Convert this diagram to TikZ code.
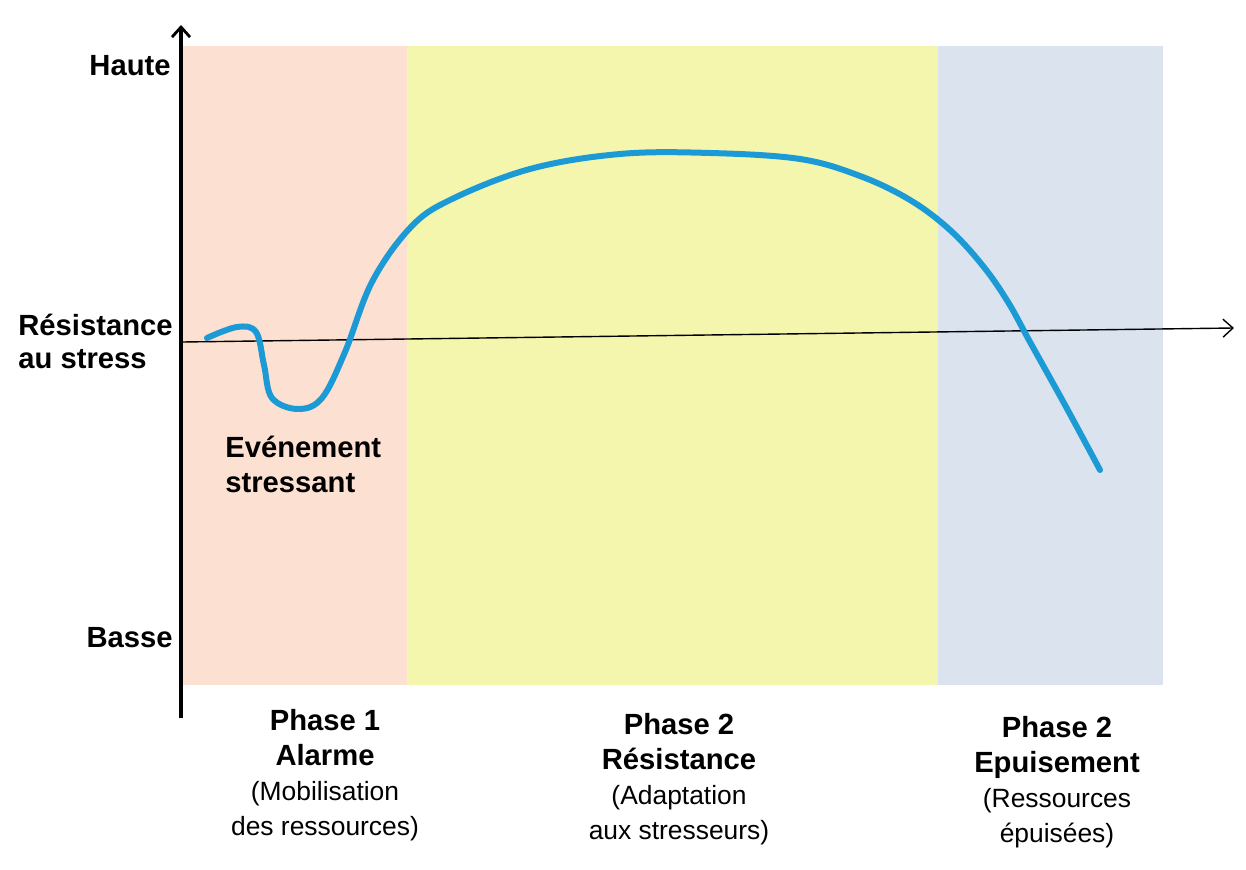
\documentclass[tikz,border=0pt]{standalone}
\usepackage{fontspec}
\setmainfont{Liberation Sans}
\usetikzlibrary{arrows.meta}
\definecolor{pinkbg}{HTML}{FCE0D2}
\definecolor{yellowbg}{HTML}{F4F6AE}
\definecolor{bluebg}{HTML}{DAE3EE}
\definecolor{curveblue}{HTML}{1C9AD6}
\newcommand\bphasefont{\fontsize{14.6}{17.5}\selectfont\bfseries}
\tikzset{
  lbl/.style={font=\fontsize{14.6}{17}\selectfont\bfseries, inner sep=0pt},
  phase/.style={font=\fontsize{13.2}{17.5}\selectfont, align=center, inner sep=0pt},
  axis/.style={line width=1.6pt, -{Straight Barb[length=5pt,width=9pt,line width=1.4pt]}},
  hax/.style={line width=0.7pt, -{Straight Barb[length=5pt,width=9pt,line width=0.7pt]}},
}
\begin{document}
\begin{tikzpicture}[x=0.5pt,y=-0.5pt]
\useasboundingbox (0,0) rectangle (1246,870);
\fill[pinkbg] (183,46) rectangle (407,685);
\fill[yellowbg] (407,46) rectangle (938,685);
\fill[bluebg] (938,46) rectangle (1163,685);
% horizontal axis
\coordinate (h0) at (183,342);
\coordinate (h1) at (1234,328);
\draw[hax] (h0) -- (h1);
% curve
\draw[curveblue, line width=3pt, line cap=round, line join=round]
  plot[smooth, tension=0.6] coordinates {(207,338) (237,327) (256,332) (264,365) (272,398) (298,409) (322,398) (345,352) (372,282) (410,228) (450,200) (530,169) (620,154) (710,153) (800,159) (860,176) (910,200) (950,230) (983,266) (1008,302) (1030,342) (1065,405) (1100,470)};
% vertical axis
\coordinate (v0) at (181,718);
\coordinate (v1) at (181,25);
\draw[axis] (v0) -- (v1);
% labels
\node[lbl, anchor=east] (haute) at (171,66) {Haute};
\node[lbl, anchor=east] (basse) at (173,638) {Basse};
\node[lbl, anchor=west, align=left, font=\fontsize{14.6}{16.5}\selectfont\bfseries] (res) at (18,341) {Résistance\\au stress};
\node[lbl, anchor=west, align=left, font=\fontsize{14.6}{17.5}\selectfont\bfseries] (evt) at (225,464) {Evénement\\stressant};
\node[phase] (p1) at (325,775) {{\bphasefont Phase 1}\\{\bphasefont Alarme}\\(Mobilisation\\des ressources)};
\node[phase] (p2) at (679,779) {{\bphasefont Phase 2}\\{\bphasefont Résistance}\\(Adaptation\\aux stresseurs)};
\node[phase] (p3) at (1057,782) {{\bphasefont Phase 2}\\{\bphasefont Epuisement}\\(Ressources\\épuisées)};
\end{tikzpicture}
\end{document}
